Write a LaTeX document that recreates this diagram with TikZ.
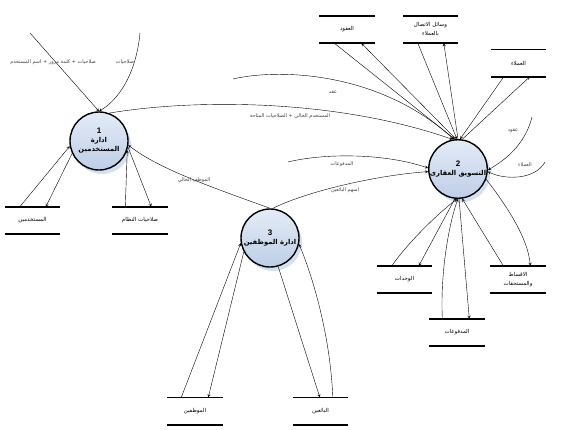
\documentclass[tikz,border=0pt]{standalone}
\usepackage{fontspec}
\setmainfont{Liberation Sans}
\newfontfamily\arabicfont[Script=Arabic]{DejaVu Sans}
\TeXXeTstate=1
\usetikzlibrary{shadows}
\definecolor{proctop}{RGB}{228,235,246}
\definecolor{procbot}{RGB}{190,206,232}
\definecolor{procshade}{RGB}{208,221,240}
\newcommand{\artxt}[1]{{\arabicfont\beginR #1\endR}}
\tikzset{
  proc/.style={circle, draw, line width=1.4pt, minimum size=58pt, inner sep=0pt, align=center,
    top color=proctop, bottom color=procbot, font=\fontsize{6.8}{9}\selectfont\bfseries,
    drop shadow={shadow xshift=3pt, shadow yshift=-4pt, fill=procshade, opacity=0.9}},
  store/.style={minimum width=55pt, minimum height=27pt, inner sep=0pt, align=center,
    font=\fontsize{5.5}{9}\selectfont},
  storeline/.style={line width=1.6pt},
  flow/.style={->, >=stealth, thin},
  lbl/.style={font=\fontsize{5}{6}\selectfont, text=black!75, inner sep=1pt},
}

\begin{document}
\begin{tikzpicture}[x=1pt, y=-1pt]
  \useasboundingbox (0,0) rectangle (577,429);

  % processes
  \node[proc] (p1) at (99,141) {{\fontsize{8}{9}\selectfont 1}\\\artxt{ادارة}\\\artxt{المستخدمين}};
  \node[proc] (p2) at (458,169) {{\fontsize{8}{9}\selectfont 2}\\\artxt{التسويق العقارى}};
  \node[proc] (p3) at (270,238) {{\fontsize{8}{9}\selectfont 3}\\\artxt{ادارة الموظفين}};

  % data stores
  \node[store] (su) at (32.5,220.5) {\artxt{المستخدمين}};
  \node[store] (sr) at (140,220.5) {\artxt{صلاحيات النظام}};
  \node[store] (sc) at (347,29.5) {\artxt{العقود}};
  \node[store] (sk) at (430.5,29.5) {\artxt{وسائل الاتصال}\\\artxt{بالعملاء}};
  \node[store] (sa) at (518.5,63) {\artxt{العملاء}};
  \node[store] (sw) at (404.5,279.5) {\artxt{الوحدات}};
  \node[store] (sp) at (457,332.5) {\artxt{المدفوعات}};
  \node[store] (si) at (518,279.5) {\artxt{الاقساط}\\\artxt{والمستحقات}};
  \node[store] (se) at (195,411) {\artxt{الموظفين}};
  \node[store] (sb) at (320.5,411) {\artxt{البائعين}};
  \foreach \s in {su,sr,sc,sk,sa,sw,sp,si,se,sb}
    \draw[storeline] (\s.north west) -- (\s.north east) (\s.south west) -- (\s.south east);

  % process 1
  \coordinate (in1) at (30,33);
  \coordinate (in2) at (140,33);
  \draw[flow] (in1) -- (p1.north);
  \draw[flow] (in2) .. controls (136,75) and (118,100) .. (p1.north);
  \node[lbl] (l1) at (53,62) {\artxt{صلاحيات + كلمة مرور + اسم المستخدم}};
  \node[lbl] (l2) at (125,62) {\artxt{صلاحيات}};
  \draw[flow] ([xshift=15pt]su.north west) -- (p1.190);
  \draw[flow] (p1.205) -- ([xshift=41pt]su.north west);
  \draw[flow] ([xshift=13pt]sr.north west) -- (p1.-18);
  \draw[flow] (p1.-12) -- ([xshift=39pt]sr.north west);
  \draw[flow] (p1.70) .. controls (200,98) and (340,100) .. (p2.100);
  \node[lbl] (l3) at (290,116) {\artxt{المستخدم الحالي + الصلاحيات المتاحة}};

  % process 3
  \draw[flow] (p3.north) .. controls (220,190) and (160,170) .. (p1.-8);
  \node[lbl] (l4) at (194,180) {\artxt{الموظف الحالي}};
  \draw[flow] (p3.85) .. controls (310,190) and (380,175) .. (p2.185);
  \node[lbl] (l5) at (345,190) {\artxt{اسهم البائعين}};
  \coordinate (pay) at (288,162);
  \draw[flow] (pay) .. controls (320,154) and (380,152) .. (p2.178);
  \node[lbl] (l6) at (342,164) {\artxt{المدفوعات}};
  \draw[flow] ([xshift=14pt]se.north west) -- (p3.190);
  \draw[flow] (p3.208) -- ([xshift=41pt]se.north west);
  \draw[flow] (p3.286) -- ([xshift=27pt]sb.north west);
  \draw[flow] ([xshift=40pt]sb.north west) .. controls (330,330) and (310,270) .. (p3.-12);

  % process 2
  \coordinate (contract) at (233,79);
  \draw[flow] (contract) .. controls (280,68) and (380,72) .. (p2.98);
  \node[lbl] (l7) at (333,92) {\artxt{عقد}};
  \draw[flow] ([xshift=15pt]sc.south west) -- (p2.96);
  \draw[flow] (p2.94) -- ([xshift=42pt]sc.south west);
  \draw[flow] ([xshift=15pt]sk.south west) -- (p2.92);
  \draw[flow] (p2.90) -- ([xshift=41pt]sk.south west);
  \draw[flow] ([xshift=13pt]sa.south west) -- (p2.86);
  \draw[flow] (p2.82) -- ([xshift=39pt]sa.south west);
  \coordinate (contrIn) at (532,117);
  \draw[flow] (contrIn) .. controls (525,145) and (505,160) .. (p2.-2);
  \node[lbl] (l8) at (513,131) {\artxt{عقود}};
  \coordinate (custIn) at (545,162);
  \draw[flow] (custIn) .. controls (535,180) and (505,180) .. (p2.-5);
  \node[lbl] (l9) at (525,165) {\artxt{العملاء}};
  \draw[flow] (p2.-20) .. controls (510,210) and (528,240) .. ([xshift=40pt]si.north west);
  \draw[flow] ([xshift=15pt]sw.north west) .. controls (410,240) and (440,212) .. (p2.268);
  \draw[flow] (p2.264) -- ([xshift=42pt]sw.north west);
  \draw[flow] ([xshift=13pt]sp.north west) .. controls (440,270) and (450,220) .. (p2.south);
  \draw[flow] (p2.272) -- ([xshift=40pt]sp.north west);
  \draw[flow] ([xshift=13pt]si.north west) -- (p2.278);
\end{tikzpicture}
\end{document}
